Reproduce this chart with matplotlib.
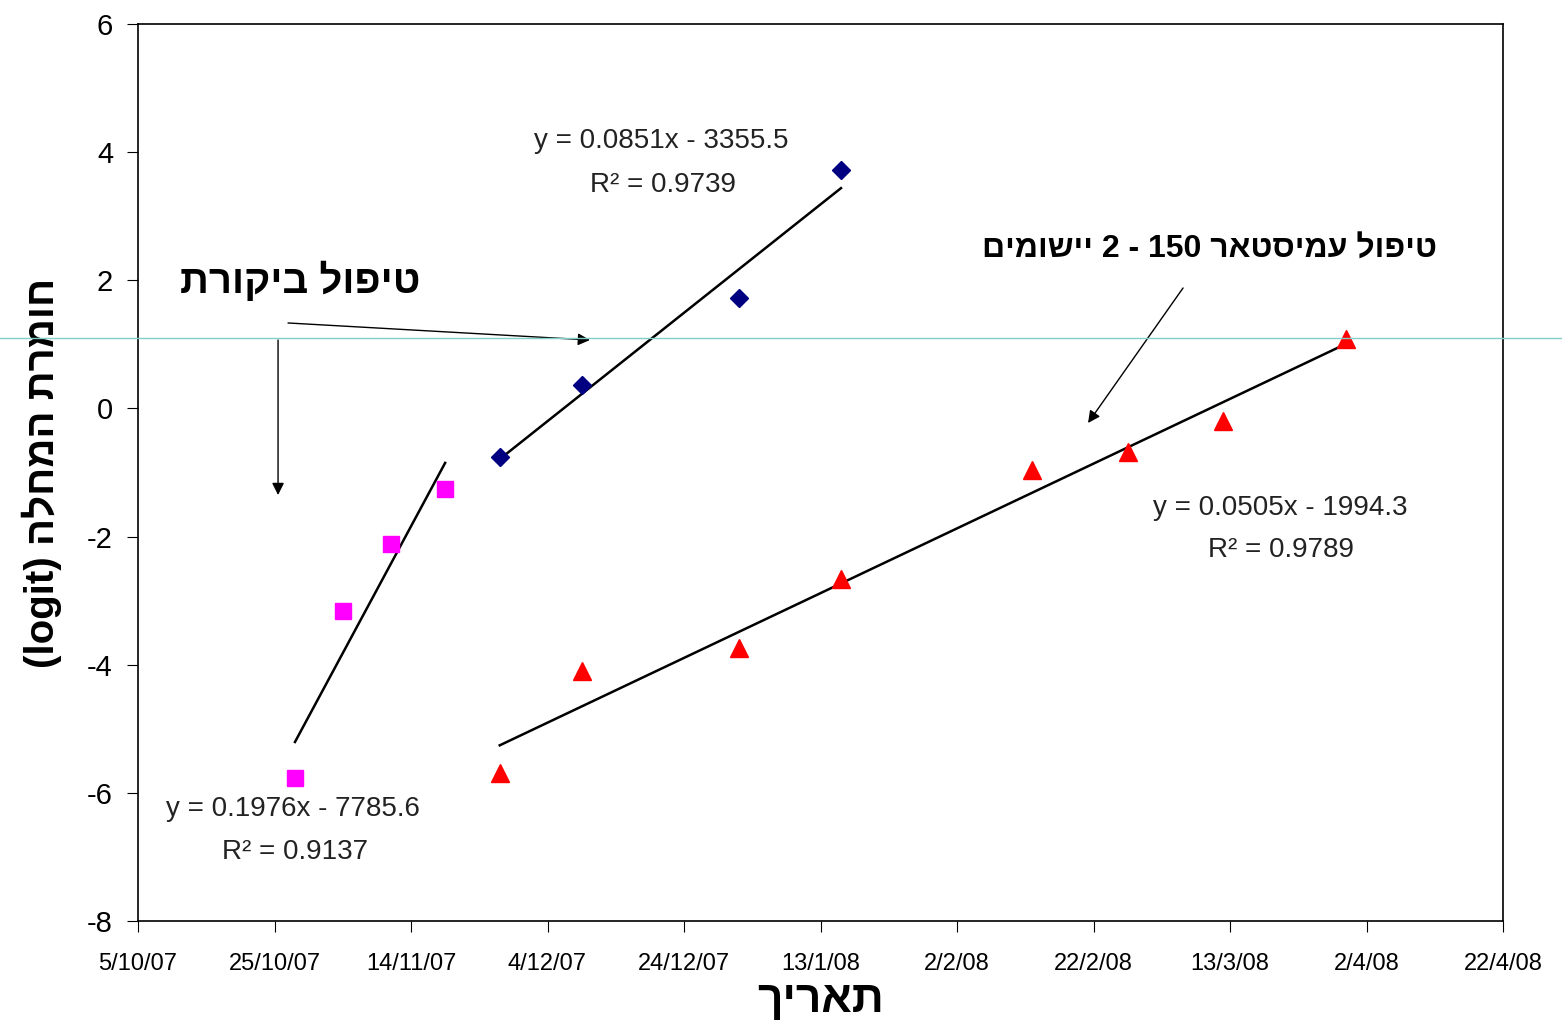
import numpy as np
import matplotlib
matplotlib.use("Agg")
from matplotlib import pyplot as plt
import matplotlib.dates as mdates
import matplotlib.lines as mlines
import matplotlib.ticker as mticker
from datetime import datetime

plt.rcParams['font.family'] = ['Liberation Sans', 'DejaVu Sans']
plt.rcParams['axes.unicode_minus'] = False

# control (magenta)
ctrl_dates = ['2007-10-28', '2007-11-04', '2007-11-11', '2007-11-19']
ctrl_vals = [-5.77, -3.16, -2.12, -1.26]
# blue diamonds
blue_dates = ['2007-11-27', '2007-12-09', '2008-01-01', '2008-01-16']
blue_vals = [-0.76, 0.36, 1.72, 3.72]
# red triangles (2 applications)
red_dates = ['2007-11-27', '2007-12-09', '2008-01-01', '2008-01-16',
             '2008-02-13', '2008-02-27', '2008-03-12', '2008-03-30']
red_vals = [-5.69, -4.10, -3.74, -2.66, -0.96, -0.68, -0.20, 1.08]

tick_dates = ['2007-10-05', '2007-10-25', '2007-11-14', '2007-12-04', '2007-12-24',
              '2008-01-13', '2008-02-02', '2008-02-22', '2008-03-13', '2008-04-02',
              '2008-04-22']

eq_blue = ["y = 0.0851x - 3355.5", "R² = 0.9739"]
eq_red = ["y = 0.0505x - 1994.3", "R² = 0.9789"]
eq_ctrl = ["y = 0.1976x - 7785.6", "R² = 0.9137"]


def rtl(s):
    # visual order for hebrew text (matplotlib has no bidi)
    out = []
    for t in reversed(s.split(' ')):
        if any('\u0590' <= c <= '\u05ff' for c in t):
            t = t[::-1]
        out.append(t)
    return ' '.join(out)


def todn(lst):
    return mdates.date2num([datetime.strptime(d, '%Y-%m-%d') for d in lst])


fig = plt.figure(figsize=(15.62, 10.32), dpi=100)
ax = fig.add_axes([138/1562, 1-921/1032, 1365/1562, 897/1032])

series = [(ctrl_dates, ctrl_vals, 's', '#FF00FF', 12),
          (blue_dates, blue_vals, 'D', '#000080', 9),
          (red_dates, red_vals, '^', '#FF0000', 13)]
for dts, vals, mk, col, ms in series:
    x = todn(dts)
    ax.plot(x, vals, linestyle='none', marker=mk, color=col, markersize=ms, zorder=3)
    k, b = np.polyfit(x, vals, 1)
    xs = np.array([x[0], x[-1]])
    ax.plot(xs, k*xs + b, color='black', lw=1.8, zorder=2)

tk = todn(tick_dates)
ax.set_xlim(tk[0], tk[-1])
ax.set_ylim(-8, 6)
ax.set_xticks(tk)
ax.xaxis.set_major_formatter(mticker.FuncFormatter(
    lambda v, p: "%d/%d/%s" % (mdates.num2date(v).day, mdates.num2date(v).month,
                               mdates.num2date(v).strftime('%y'))))
ax.set_yticks(np.arange(-8, 7, 2))
ax.tick_params(axis='x', labelsize=17, length=8, direction='out', pad=15, colors='black')
ax.tick_params(axis='y', labelsize=21, length=8, direction='out', pad=10)
for sp in ax.spines.values():
    sp.set_linewidth(1.2)

ax.set_xlabel(rtl("תאריך"), fontsize=32, fontweight='bold', labelpad=4)
ax.set_ylabel(rtl("חומרת המחלה (logit)"), fontsize=29, fontweight='bold', labelpad=18)

# equations
tc = '#222222'
ax.text(0.3832, 0.8696, eq_blue[0], transform=ax.transAxes, ha='center', va='center', fontsize=20, color=tc)
ax.text(0.3846, 0.8205, eq_blue[1], transform=ax.transAxes, ha='center', va='center', fontsize=20, color=tc)
ax.text(0.8366, 0.4604, eq_red[0], transform=ax.transAxes, ha='center', va='center', fontsize=20, color=tc)
ax.text(0.8374, 0.4136, eq_red[1], transform=ax.transAxes, ha='center', va='center', fontsize=20, color=tc)
ax.text(0.1136, 0.1249, eq_ctrl[0], transform=ax.transAxes, ha='center', va='center', fontsize=20, color=tc)
ax.text(0.1150, 0.0769, eq_ctrl[1], transform=ax.transAxes, ha='center', va='center', fontsize=20, color=tc)

# hebrew labels + arrows
ax.text(0.1187, 0.7135, rtl("טיפול ביקורת"), transform=ax.transAxes, ha='center', va='center',
        fontsize=29, fontweight='bold')
ax.text(0.7853, 0.7480, rtl("טיפול עמיסטאר 150 - 2 יישומים"), transform=ax.transAxes,
        ha='center', va='center', fontsize=23, fontweight='bold')
arr = dict(arrowstyle='-|>', color='black', lw=1.0, mutation_scale=18, shrinkA=0, shrinkB=0)
ax.annotate('', xy=(0.3311, 0.6477), xytext=(0.1099, 0.6667), xycoords='axes fraction', arrowprops=arr)
ax.annotate('', xy=(0.1026, 0.4749), xytext=(0.1026, 0.6477), xycoords='axes fraction', arrowprops=arr)
ax.annotate('', xy=(0.6960, 0.5552), xytext=(0.7656, 0.7057), xycoords='axes fraction', arrowprops=arr)

# faint horizontal guide line in the screenshot
fig.add_artist(mlines.Line2D([0, 1], [1-338/1032]*2, transform=fig.transFigure,
                             color='#80d0c8', lw=1.0, zorder=10))

fig.savefig('out.png', dpi=100)
